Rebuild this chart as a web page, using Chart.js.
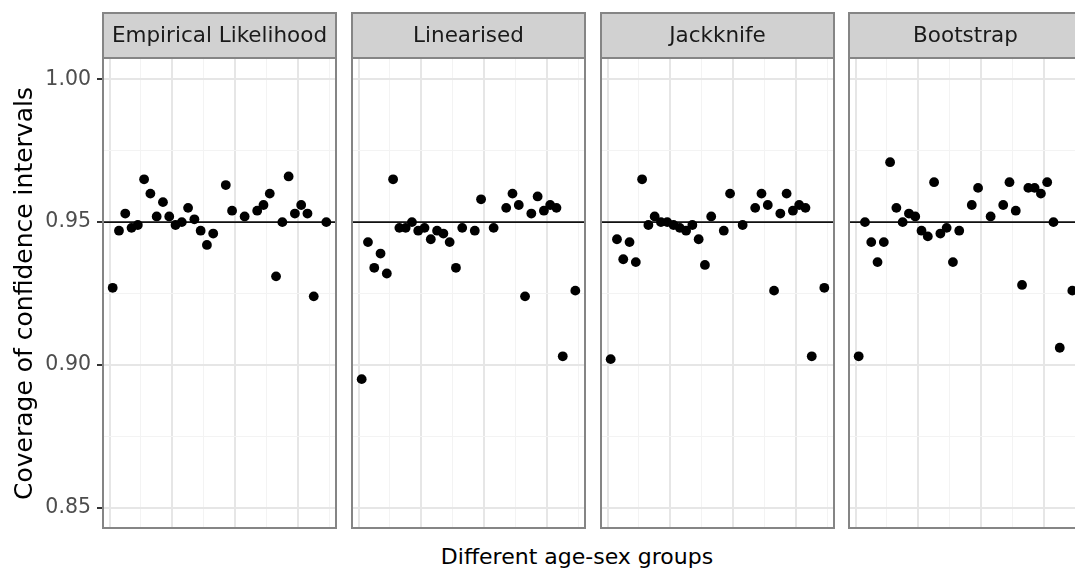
<!DOCTYPE html>
<html>
<head>
<meta charset="utf-8">
<script src="https://cdn.jsdelivr.net/npm/chart.js@4.4.0/dist/chart.umd.min.js"></script>
<style>
  html, body { margin: 0; padding: 0; background: #fff; overflow: hidden; }
  #wrap { position: relative; width: 1075px; height: 574px; overflow: hidden; }
  .facet { position: absolute; top: 12px; }
  .facet canvas { display: block; }
  #xtitle {
    position: absolute; top: 544px; left: 77px; width: 1000px;
    text-align: center; font: 22px "DejaVu Sans", sans-serif; color: #000;
    white-space: nowrap;
  }
</style>
</head>
<body>
<div id="wrap">
  <div id="xtitle">Different age-sex groups</div>
</div>
<script>
// Age-sex group identifiers (x) shared by every facet
const groups = [1, 3, 5, 7, 9, 11, 13, 15, 17, 19, 21, 23, 25, 27, 29, 31, 33,
                37, 39, 43, 47, 49, 51, 53, 55, 57, 59, 61, 63, 65, 69];

// Facet labels (one per variance method)
const methods = ['Empirical Likelihood', 'Linearised', 'Jackknife', 'Bootstrap'];

// Coverage of the confidence intervals, one array per method
const empirical  = [0.927, 0.947, 0.953, 0.948, 0.949, 0.965, 0.960, 0.952, 0.957, 0.952, 0.949,
                    0.950, 0.955, 0.951, 0.947, 0.942, 0.946, 0.963, 0.954, 0.952, 0.954, 0.956,
                    0.960, 0.931, 0.950, 0.966, 0.953, 0.956, 0.953, 0.924, 0.950];
const linearised = [0.895, 0.943, 0.934, 0.939, 0.932, 0.965, 0.948, 0.948, 0.950, 0.947, 0.948,
                    0.944, 0.947, 0.946, 0.943, 0.934, 0.948, 0.947, 0.958, 0.948, 0.955, 0.960,
                    0.956, 0.924, 0.953, 0.959, 0.954, 0.956, 0.955, 0.903, 0.926];
const jackknife  = [0.902, 0.944, 0.937, 0.943, 0.936, 0.965, 0.949, 0.952, 0.950, 0.950, 0.949,
                    0.948, 0.947, 0.949, 0.944, 0.935, 0.952, 0.947, 0.960, 0.949, 0.955, 0.960,
                    0.956, 0.926, 0.953, 0.960, 0.954, 0.956, 0.955, 0.903, 0.927];
const bootstrap  = [0.903, 0.950, 0.943, 0.936, 0.943, 0.971, 0.955, 0.950, 0.953, 0.952, 0.947,
                    0.945, 0.964, 0.946, 0.948, 0.936, 0.947, 0.956, 0.962, 0.952, 0.956, 0.964,
                    0.954, 0.928, 0.962, 0.962, 0.960, 0.964, 0.950, 0.906, 0.926];

// Axis breaks and limits
const yTicks  = [0.85, 0.90, 0.95, 1.00];
const yMinor  = [0.875, 0.925, 0.975];
const xBreaks = [0, 20, 40, 60];
const xMinor  = [10, 30, 50, 70];
const yLimits = [0.85, 1.00];
const xLimits = [1, 69];
const nominal = 0.95;   // nominal coverage level

const series = [empirical, linearised, jackknife, bootstrap];

// ---- layout / style ----
const FONT = '"DejaVu Sans", sans-serif';
const panelLefts = [102, 351, 600, 848];
const panelWidth = 235;
const axisWidth = 102;          // room for the y axis in the first facet
const canvasHeight = 517;
const stripHeight = 46;
const MAJOR = '#e6e6e6', MINOR = '#f3f3f3';

function expand(lims) {
  const pad = (lims[1] - lims[0]) * 0.05;
  return [lims[0] - pad, lims[1] + pad];
}
const [xMin, xMax] = expand(xLimits);
const [yMin, yMax] = expand(yLimits);

const facetPlugin = {
  id: 'facet',
  beforeDatasetsDraw(chart) {
    const { ctx, chartArea: a, scales: { y } } = chart;
    const yy = y.getPixelForValue(nominal);
    ctx.save();
    ctx.strokeStyle = '#111';
    ctx.lineWidth = 1.8;
    ctx.beginPath();
    ctx.moveTo(a.left, yy);
    ctx.lineTo(a.right, yy);
    ctx.stroke();
    ctx.restore();
  },
  afterDraw(chart, args, opts) {
    const { ctx, chartArea: a } = chart;
    const w = a.right - a.left;
    ctx.save();
    // panel border
    ctx.strokeStyle = '#858585';
    ctx.lineWidth = 2;
    ctx.strokeRect(a.left + 1, a.top, w - 2, a.bottom - a.top - 1);
    // strip
    ctx.fillStyle = '#d1d1d1';
    ctx.fillRect(a.left, 0, w, stripHeight);
    ctx.strokeRect(a.left + 1, 1, w - 2, stripHeight - 1);
    ctx.fillStyle = '#1a1a1a';
    ctx.font = '21.5px ' + FONT;
    ctx.textAlign = 'center';
    ctx.textBaseline = 'middle';
    ctx.fillText(opts.label, a.left + w / 2, stripHeight / 2 + 1);
    ctx.restore();
  }
};

const allY = [...yTicks, ...yMinor].sort((a, b) => a - b);
const allX = [...xBreaks, ...xMinor].sort((a, b) => a - b);

methods.forEach((label, k) => {
  const first = k === 0;
  const div = document.createElement('div');
  div.className = 'facet';
  const left = first ? 0 : panelLefts[k];
  const width = first ? panelLefts[0] + panelWidth : panelWidth;
  div.style.left = left + 'px';
  div.style.width = width + 'px';
  div.style.height = canvasHeight + 'px';
  const cv = document.createElement('canvas');
  cv.width = width;
  cv.height = canvasHeight;
  div.appendChild(cv);
  document.getElementById('wrap').appendChild(div);

  const gridColor = list => c => (list.includes(c.tick.value) ? MAJOR : MINOR);
  const gridWidth = list => c => (list.includes(c.tick.value) ? 2 : 1);

  new Chart(cv, {
    type: 'scatter',
    data: {
      datasets: [{
        data: groups.map((g, i) => ({ x: g, y: series[k][i] })),
        pointRadius: 4.9,
        pointHoverRadius: 4.9,
        backgroundColor: '#000',
        borderWidth: 0
      }]
    },
    options: {
      responsive: false,
      animation: false,
      devicePixelRatio: 1,
      layout: { autoPadding: false, padding: { top: stripHeight, left: 0, right: 0, bottom: 0 } },
      plugins: {
        legend: { display: false },
        tooltip: { enabled: false },
        facet: { label }
      },
      scales: {
        x: {
          type: 'linear',
          min: xMin, max: xMax,
          afterBuildTicks: s => { s.ticks = allX.map(v => ({ value: v })); },
          ticks: { display: false },
          border: { display: false },
          grid: { drawTicks: false, color: gridColor(xBreaks), lineWidth: gridWidth(xBreaks) },
          afterFit: s => { s.height = 0; }
        },
        y: {
          type: 'linear',
          min: yMin, max: yMax,
          afterBuildTicks: s => { s.ticks = allY.map(v => ({ value: v })); },
          ticks: {
            display: first,
            autoSkip: false,
            padding: 6,
            color: '#4d4d4d',
            font: { family: FONT, size: 20.5 },
            callback: v => (yTicks.includes(v) ? v.toFixed(2) : '')
          },
          border: { display: false },
          grid: {
            drawTicks: first,
            tickLength: 5,
            tickWidth: 2,
            tickColor: c => (yTicks.includes(c.tick.value) ? '#333' : 'rgba(0,0,0,0)'),
            color: gridColor(yTicks),
            lineWidth: gridWidth(yTicks)
          },
          title: {
            display: first,
            text: 'Coverage of confidence intervals',
            color: '#000',
            font: { family: FONT, size: 25 },
            padding: { top: 10, bottom: 0 }
          },
          afterFit: s => {
            s.width = first ? axisWidth : 0;
            s.paddingTop = 0;
            s.paddingBottom = 0;
          }
        }
      }
    },
    plugins: [facetPlugin]
  });
});
</script>
</body>
</html>
